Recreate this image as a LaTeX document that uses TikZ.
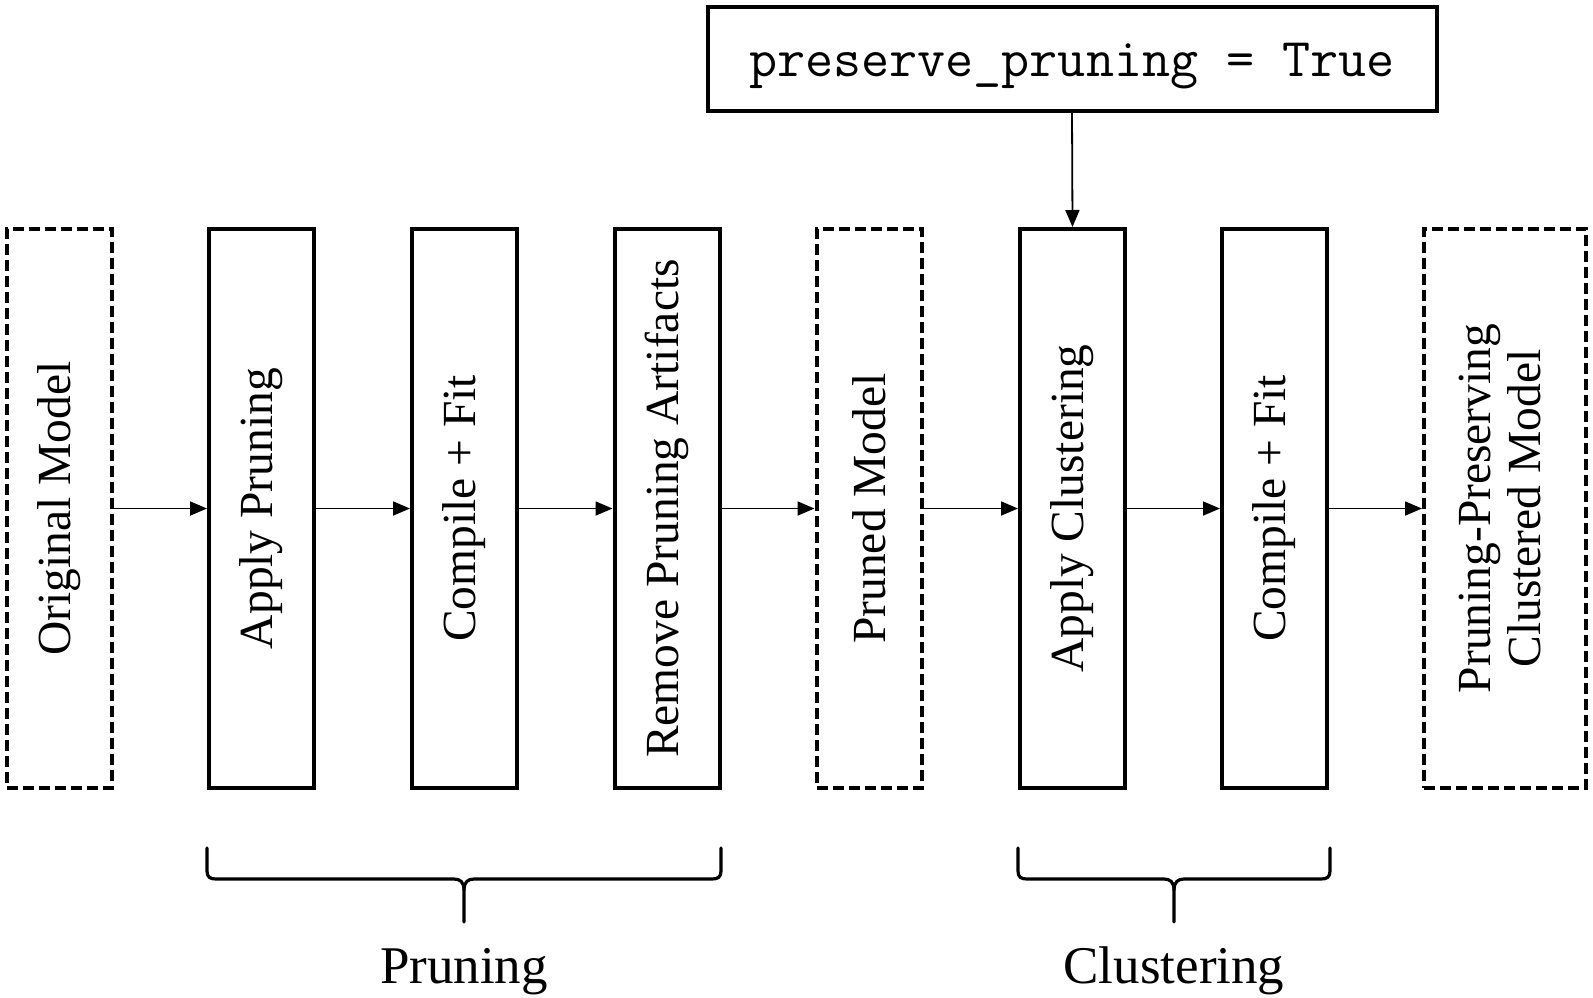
\documentclass[tikz,border=0pt]{standalone}
\usepackage{fontspec}
\usepackage{graphicx}
\setmainfont{Liberation Serif}
\usetikzlibrary{arrows.meta}
\begin{document}
\begin{tikzpicture}[x=1pt,y=-1pt,
  stepbox/.style={draw,line width=4pt,minimum width=105pt,minimum height=559pt,inner sep=0pt,
    font=\fontsize{47.5}{51}\selectfont},
  modelbox/.style={stepbox,dash pattern=on 11pt off 5pt},
  flow/.style={line width=1.8pt,-{Triangle[length=17pt,width=14pt]}},
  bracepath/.style={line width=3.2pt,line cap=round}]
\useasboundingbox[fill=white] (0,0) rectangle (1593,997);
\node[modelbox] (om) at (59.5,508.5) {\rotatebox{90}{Original Model}};
\node[stepbox] (ap) at (261.5,508.5) {\rotatebox{90}{Apply Pruning}};
\node[stepbox] (cf1) at (464.5,508.5) {\rotatebox{90}{Compile + Fit}};
\node[stepbox] (rp) at (667,508.5) {\rotatebox{90}{Remove Pruning Artifacts}};
\node[modelbox] (pm) at (869,508.5) {\rotatebox{90}{Pruned Model}};
\node[stepbox] (ac) at (1072.5,508.5) {\rotatebox{90}{Apply Clustering}};
\node[stepbox] (cf2) at (1274.5,508.5) {\rotatebox{90}{Compile + Fit}};
\node[modelbox,minimum width=162pt] (pp) at (1505,508.5) {\rotatebox{90}{\begin{tabular}{@{}c@{}}Pruning-Preserving\\[-1pt]Clustered Model\end{tabular}}};
\node[draw,line width=4pt,minimum width=729pt,minimum height=104pt,inner sep=0pt,
  text height=38pt,text depth=3pt,
  font=\ttfamily\fontsize{54.5}{58}\selectfont] (pt) at (1072,58.5) {preserve\_pruning = True};
\draw[flow] (om.east) -- (ap.west);
\draw[flow] (ap.east) -- (cf1.west);
\draw[flow] (cf1.east) -- (rp.west);
\draw[flow] (rp.east) -- (pm.west);
\draw[flow] (pm.east) -- (ac.west);
\draw[flow] (ac.east) -- (cf2.west);
\draw[flow] (cf2.east) -- (pp.west);
\draw[flow] (pt.south) -- (ac.north);
% braces
\draw[bracepath] (207,848) -- (207,871) .. controls (207,877) and (210,879) .. (216,879) -- (454,879) .. controls (460,879) and (464,882) .. (464,890) -- (464,922);
\draw[bracepath] (721,848) -- (721,871) .. controls (721,877) and (718,879) .. (712,879) -- (474,879) .. controls (468,879) and (464,882) .. (464,890);
\draw[bracepath] (1018,848) -- (1018,871) .. controls (1018,877) and (1021,879) .. (1027,879) -- (1164,879) .. controls (1170,879) and (1174,882) .. (1174,890) -- (1174,922);
\draw[bracepath] (1330,848) -- (1330,871) .. controls (1330,877) and (1327,879) .. (1321,879) -- (1184,879) .. controls (1178,879) and (1174,882) .. (1174,890);
\node[anchor=base,font=\fontsize{53}{58}\selectfont,inner sep=0pt] (pl) at (464,983) {Pruning};
\node[anchor=base,font=\fontsize{53}{58}\selectfont,inner sep=0pt] (cl) at (1174,983) {Clustering};
\end{tikzpicture}
\end{document}
